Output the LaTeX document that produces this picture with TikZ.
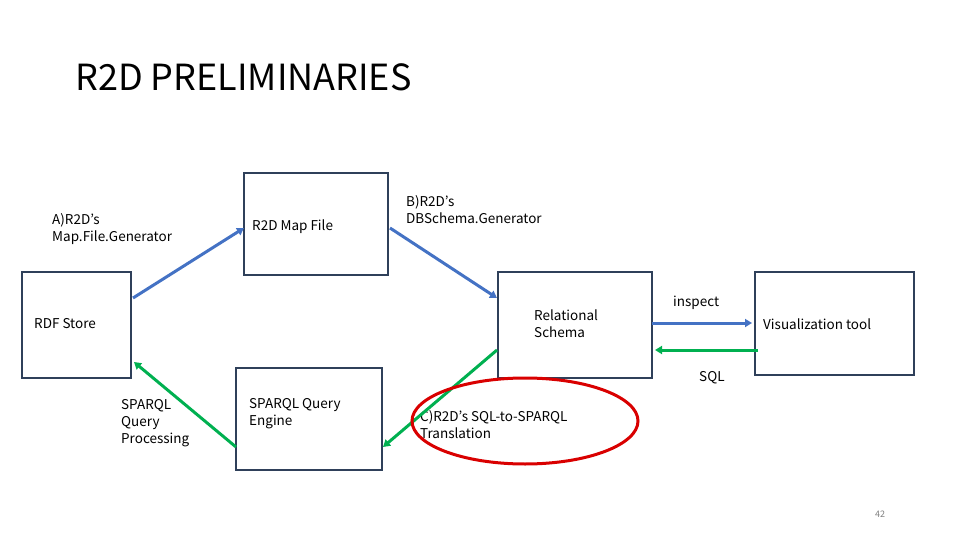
\documentclass[tikz,border=0pt]{standalone}
\usepackage{fontspec}
\setmainfont{Noto Sans CJK JP}
\usetikzlibrary{arrows.meta}
\definecolor{flowblue}{RGB}{68,114,196}
\definecolor{flowgreen}{RGB}{0,176,80}
\definecolor{boxline}{RGB}{47,64,90}
\begin{document}
\begin{tikzpicture}[x=1pt,y=-1pt]
\tikzset{
  stepbox/.style={draw=boxline, line width=1.2pt, minimum width=#1, inner sep=0pt},
  lbl/.style={font=\fontsize{13.5}{17}\selectfont, align=left, inner sep=0pt, anchor=west},
  fwd/.style={flowblue, line width=3pt, -{Triangle[length=7pt,width=8pt]}},
  back/.style={flowgreen, line width=3pt, -{Triangle[length=7pt,width=8pt]}}
}
\useasboundingbox (0,0) rectangle (960,540);
\node[anchor=west, inner sep=0pt, font=\fontsize{36}{40}\selectfont] (title) at (75,77) {R2D PRELIMINARIES};

% boxes
\node[stepbox=109pt, minimum height=106pt] (rdf) at (76.5,325) {};
\node[stepbox=144pt, minimum height=102pt] (map) at (316,224) {};
\node[stepbox=154pt, minimum height=106pt] (rel) at (575,325) {};
\node[stepbox=159pt, minimum height=103pt] (vis) at (834.5,323.5) {};
\node[stepbox=146pt, minimum height=102pt] (eng) at (309,419) {};

% labels
\node[lbl] (rdft) at (34,324) {RDF Store};
\node[lbl] (mapt) at (252,227) {R2D Map File};
\node[lbl] (relt) at (534,324) {Relational\\Schema};
\node[lbl] (vist) at (763,324) {Visualization tool};
\node[lbl] (engt) at (249,414) {SPARQL Query\\Engine};
\node[lbl] (gena) at (52,229) {A)R2D's\\Map.File.Generator};
\node[lbl] (genb) at (406,210) {B)R2D's\\DBSchema.Generator};
\node[lbl] (proc) at (121,423) {SPARQL\\Query\\Processing};
\node[lbl] (insp) at (673,303) {inspect};
\node[lbl] (sql) at (699,378) {SQL};
\node[lbl] (genc) at (420,425) {C)R2D's SQL-to-SPARQL\\Translation};

% connectors
\coordinate (a1) at (133,298); \coordinate (a2) at (244,228);
\coordinate (b1) at (390,228); \coordinate (b2) at (497,298);
\coordinate (c1) at (652,323); \coordinate (c2) at (752,323);
\coordinate (d1) at (758,350); \coordinate (d2) at (655,350);
\coordinate (e1) at (497,350); \coordinate (e2) at (383,447);
\coordinate (f1) at (236,447); \coordinate (f2) at (134,362);
\draw[fwd] (a1) -- (a2);
\draw[fwd] (b1) -- (b2);
\draw[fwd] (c1) -- (c2);
\draw[back] (d1) -- (d2);
\draw[back] (e1) -- (e2);
\draw[back] (f1) -- (f2);

\draw[red!85!black, line width=3pt] (525,421) ellipse [x radius=113, y radius=43];
\node[font=\fontsize{9}{10}\selectfont, text=gray] (num) at (880,514) {42};
\end{tikzpicture}
\end{document}
